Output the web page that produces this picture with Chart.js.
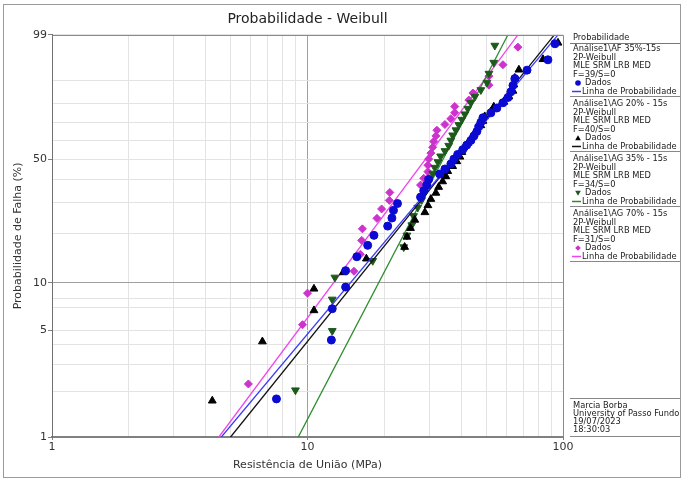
<!DOCTYPE html>
<html>
<head>
<meta charset="utf-8">
<script src="https://cdn.jsdelivr.net/npm/chart.js@4"></script>
<style>
  html, body { margin: 0; padding: 0; background: #fff; }
  #wrap { width: 683px; height: 480px; position: relative; }
</style>
</head>
<body>
<div id="wrap"><canvas id="weibull-chart"></canvas></div>
<script>
// Resistencia (MPa) e probabilidade de falha (%) de cada grupo
const af35_x = [7.56, 12.4, 12.5, 14.1, 14.1, 15.6, 17.2, 18.2, 20.6, 21.4, 21.7, 22.5, 27.7, 28.5, 29.3, 29.8, 32.9, 34.5, 36.4, 37.4,
  38.7, 40.5, 42.0, 43.6, 44.8, 46.0, 46.8, 47.7, 48.6, 52.2, 55.1, 58.2, 60.9, 62.5, 63.7, 64.8, 72.3, 87.3, 93.0];
const af35_f = [1.78, 4.31, 6.85, 9.39, 11.9, 14.5, 17.0, 19.5, 22.1, 24.6, 27.2, 29.7, 32.2, 34.8, 37.3, 39.9, 42.4, 44.9, 47.5, 50.0,
  52.5, 55.1, 57.6, 60.2, 62.7, 65.2, 67.8, 70.3, 72.8, 75.4, 77.9, 80.5, 83.0, 85.5, 88.1, 90.6, 93.2, 95.7, 98.2];

const ag20_x = [4.24, 6.66, 10.6, 10.6, 13.8, 17.0, 24.0, 24.5, 25.3, 26.3, 28.8, 29.6, 30.4, 31.8, 32.6, 33.8, 34.8, 35.4, 37.0, 38.4,
  39.5, 40.2, 40.9, 42.4, 43.6, 44.8, 46.0, 47.7, 48.6, 49.4, 52.2, 53.6, 58.7, 61.4, 63.7, 64.2, 64.8, 67.2, 83.5, 95.6];
const ag20_f = [1.73, 4.21, 6.68, 9.16, 11.6, 14.1, 16.6, 19.1, 21.5, 24.0, 26.5, 29.0, 31.4, 33.9, 36.4, 38.9, 41.3, 43.8, 46.3, 48.8,
  51.2, 53.7, 56.2, 58.7, 61.1, 63.6, 66.1, 68.6, 71.0, 73.5, 76.0, 78.5, 80.9, 83.4, 85.9, 88.4, 90.8, 93.3, 95.8, 98.3];

const ag35_x = [8.97, 12.5, 12.5, 12.8, 18.0, 23.8, 24.5, 25.6, 26.0, 27.0, 28.0, 28.8, 29.3, 29.8, 30.9, 31.5, 32.4, 33.2, 34.5, 35.7,
  36.4, 37.0, 38.1, 39.1, 40.2, 41.3, 42.4, 43.6, 45.2, 47.7, 50.4, 51.3, 53.6, 54.1];
const ag35_f = [2.03, 4.94, 7.85, 10.8, 13.7, 16.6, 19.5, 22.4, 25.3, 28.2, 31.1, 34.0, 36.9, 39.8, 42.7, 45.6, 48.5, 51.5, 54.4, 57.3,
  60.2, 63.1, 66.0, 68.9, 71.8, 74.7, 77.6, 80.5, 83.4, 86.3, 89.2, 92.2, 95.1, 98.0];

const ag70_x = [5.87, 9.56, 10.0, 15.2, 16.1, 16.3, 16.4, 18.7, 19.5, 20.9, 21.0, 27.7, 28.5, 29.6, 29.6, 29.8, 30.4, 30.9, 31.2, 31.8,
  32.1, 34.5, 36.4, 37.7, 37.7, 42.8, 44.4, 51.3, 51.3, 58.2, 66.6];
const ag70_f = [2.23, 5.41, 8.60, 11.8, 15.0, 18.2, 21.3, 24.5, 27.7, 30.9, 34.1, 37.3, 40.4, 43.6, 46.8, 50.0, 53.2, 56.4, 59.6, 62.7,
  65.9, 69.1, 72.3, 75.5, 78.7, 81.8, 85.0, 88.2, 91.4, 94.6, 97.8];

// linhas de probabilidade: resistencia em F=1% e F=99%
const line_f = [1, 99];
const af35_line_x = [4.6, 95.6];
const ag20_line_x = [5.0, 92.5];
const ag35_line_x = [9.2, 60.9];
const ag70_line_x = [4.5, 66.6];

// ticks
const x_ticks = [1, 2, 3, 4, 5, 6, 7, 8, 9, 10, 20, 30, 40, 50, 60, 70, 80, 90, 100];
const x_labels = [1, 10, 100];
const y_ticks = [1, 2, 3, 4, 5, 7, 8, 10, 20, 30, 40, 50, 60, 70, 80, 90, 99];
const y_labels = [1, 5, 10, 50, 99];

const font_family = '"DejaVu Sans", sans-serif';
Chart.defaults.font.family = font_family;
Chart.defaults.color = '#333';

// escala de Weibull: ln(-ln(1-F))
function weibull_y(f) {
  return Math.log(-Math.log(1 - f / 100));
}

function to_points(xs, fs) {
  return xs.map((x, i) => ({ x: x, y: weibull_y(fs[i]) }));
}

const groups = [
  { name: 'Análise1\\AF 35%-15s', fs: 'F=39/S=0', x: af35_x, f: af35_f, line_x: af35_line_x,
    point_color: '#0a0ad2', line_color: '#3a3aff', style: 'circle', radius: 4, rotation: 0 },
  { name: 'Análise1\\AG 20% - 15s', fs: 'F=40/S=0', x: ag20_x, f: ag20_f, line_x: ag20_line_x,
    point_color: '#000000', line_color: '#111111', style: 'triangle', radius: 4.5, rotation: 0 },
  { name: 'Análise1\\AG 35% - 15s', fs: 'F=34/S=0', x: ag35_x, f: ag35_f, line_x: ag35_line_x,
    point_color: '#1c5a1c', line_color: '#2e8b2e', style: 'triangle', radius: 4.5, rotation: 180 },
  { name: 'Análise1\\AG 70% - 15s', fs: 'F=31/S=0', x: ag70_x, f: ag70_f, line_x: ag70_line_x,
    point_color: '#cc33cc', line_color: '#ee44ee', style: 'rectRot', radius: 4, rotation: 0 }
];

const datasets = [];
groups.forEach(g => {
  datasets.push({
    label: g.name + ' Dados',
    data: to_points(g.x, g.f),
    pointStyle: g.style,
    pointRotation: g.rotation,
    pointRadius: g.radius,
    backgroundColor: g.point_color,
    borderColor: g.point_color,
    borderWidth: 1,
    showLine: false
  });
  datasets.push({
    label: g.name + ' Linha',
    data: to_points(g.line_x, line_f),
    showLine: true,
    pointRadius: 0,
    borderColor: g.line_color,
    borderWidth: 1.3,
    tension: 0
  });
});

function draw_marker(ctx, g, x, y) {
  const r = 2.8;
  ctx.fillStyle = g.point_color;
  ctx.beginPath();
  if (g.style === 'circle') {
    ctx.arc(x, y, r, 0, Math.PI * 2);
  } else if (g.style === 'rectRot') {
    ctx.moveTo(x, y - r); ctx.lineTo(x + r, y); ctx.lineTo(x, y + r); ctx.lineTo(x - r, y);
  } else if (g.rotation === 180) {
    ctx.moveTo(x - r, y - r * 0.8); ctx.lineTo(x + r, y - r * 0.8); ctx.lineTo(x, y + r);
  } else {
    ctx.moveTo(x - r, y + r * 0.8); ctx.lineTo(x + r, y + r * 0.8); ctx.lineTo(x, y - r);
  }
  ctx.closePath();
  ctx.fill();
}

function hline(ctx, x1, x2, y, color) {
  ctx.strokeStyle = color;
  ctx.lineWidth = 1;
  ctx.beginPath();
  ctx.moveTo(x1, y + 0.5);
  ctx.lineTo(x2, y + 0.5);
  ctx.stroke();
}

const frame_plugin = {
  id: 'frame',
  beforeDraw(chart) {
    const ctx = chart.ctx;
    ctx.save();
    ctx.fillStyle = '#fff';
    ctx.fillRect(0, 0, chart.width, chart.height);
    ctx.restore();
  },
  afterDraw(chart) {
    const ctx = chart.ctx;
    const a = chart.chartArea;
    ctx.save();
    // borda do grafico
    ctx.strokeStyle = '#8a8a8a';
    ctx.lineWidth = 1;
    ctx.beginPath();
    ctx.moveTo(Math.round(a.left) + 0.5, Math.round(a.top) + 0.5);
    ctx.lineTo(Math.round(a.right) + 0.5, Math.round(a.top) + 0.5);
    ctx.lineTo(Math.round(a.right) + 0.5, Math.round(a.bottom));
    ctx.stroke();
    // moldura externa
    ctx.strokeStyle = '#9a9a9a';
    ctx.strokeRect(3.5, 4.5, 677, 473);

    // legenda
    const lx = 573;
    ctx.font = '8.3px ' + font_family;
    ctx.textBaseline = 'middle';
    ctx.textAlign = 'left';
    ctx.fillStyle = '#222';
    ctx.fillText('Probabilidade', lx, 38);
    hline(ctx, 570, 680, 43, '#777');

    groups.forEach((g, i) => {
      const y0 = 49 + i * 55;
      ctx.fillStyle = '#222';
      [g.name, '2P-Weibull', 'MLE SRM LRB MED', g.fs].forEach((t, j) => {
        ctx.fillText(t, lx, y0 + j * 8.5);
      });
      draw_marker(ctx, g, 578, y0 + 34);
      ctx.fillStyle = '#222';
      ctx.fillText('Dados', 585, y0 + 34);
      ctx.strokeStyle = g.line_color;
      ctx.lineWidth = 1.5;
      ctx.beginPath();
      ctx.moveTo(572, y0 + 42.5);
      ctx.lineTo(581, y0 + 42.5);
      ctx.stroke();
      ctx.fillStyle = '#222';
      ctx.fillText('Linha de Probabilidade', 582, y0 + 42.5);
      hline(ctx, 570, 680, y0 + 47, '#888');
    });

    hline(ctx, 570, 680, 398, '#888');
    ['Marcia Borba', 'University of Passo Fundo', '19/07/2023', '18:30:03'].forEach((t, j) => {
      ctx.fillStyle = '#222';
      ctx.fillText(t, lx, 406 + j * 8);
    });
    hline(ctx, 570, 680, 436, '#888');
    ctx.restore();
  }
};

const canvas = document.getElementById('weibull-chart').getContext('2d');

new Chart(canvas, {
  type: 'scatter',
  data: { datasets: datasets },
  options: {
    responsive: true,
    maintainAspectRatio: false,
    animation: false,
    layout: { padding: { left: 0, right: 120, top: 0, bottom: 0 } },
    plugins: {
      legend: { display: false },
      tooltip: { enabled: false },
      title: {
        display: true,
        fullSize: false,
        text: 'Probabilidade - Weibull',
        color: '#222',
        font: { size: 14, weight: 'normal' },
        padding: { top: 11, bottom: 7 }
      }
    },
    scales: {
      x: {
        type: 'logarithmic',
        min: 1,
        max: 100,
        afterBuildTicks: scale => { scale.ticks = x_ticks.map(v => ({ value: v })); },
        afterFit: scale => { scale.height = 43; },
        ticks: {
          autoSkip: false,
          maxRotation: 0,
          padding: 1,
          font: { size: 11 },
          callback: (value, index) => x_labels.includes(x_ticks[index]) ? String(x_ticks[index]) : ''
        },
        grid: {
          tickLength: 3,
          color: ctx => (ctx.tick && ctx.tick.value === 10) ? '#a0a0a0' : '#e3e3e3',
          tickColor: ctx => (ctx.tick && x_labels.includes(ctx.tick.value)) ? '#808080' : 'rgba(0,0,0,0)'
        },
        border: { color: '#808080', width: 2 },
        title: {
          display: true,
          text: 'Resistência de União (MPa)',
          color: '#333',
          font: { size: 11 },
          padding: { top: 0, bottom: 8 }
        }
      },
      y: {
        type: 'linear',
        min: weibull_y(1),
        max: weibull_y(99),
        afterBuildTicks: scale => { scale.ticks = y_ticks.map(f => ({ value: weibull_y(f) })); },
        afterFit: scale => { scale.width = 52; },
        ticks: {
          autoSkip: false,
          padding: 1,
          font: { size: 11 },
          callback: (value, index) => y_labels.includes(y_ticks[index]) ? String(y_ticks[index]) : ''
        },
        grid: {
          tickLength: 4,
          color: ctx => (ctx.index !== undefined && y_ticks[ctx.index] === 10) ? '#a0a0a0' : '#e3e3e3',
          tickColor: ctx => (ctx.index !== undefined && y_labels.includes(y_ticks[ctx.index])) ? '#808080' : 'rgba(0,0,0,0)'
        },
        border: { color: '#707070', width: 1 },
        title: {
          display: true,
          text: 'Probabilidade de Falha (%)',
          color: '#333',
          font: { size: 11 },
          padding: { top: 12, bottom: 0 }
        }
      }
    }
  },
  plugins: [frame_plugin]
});
</script>
</body>
</html>
